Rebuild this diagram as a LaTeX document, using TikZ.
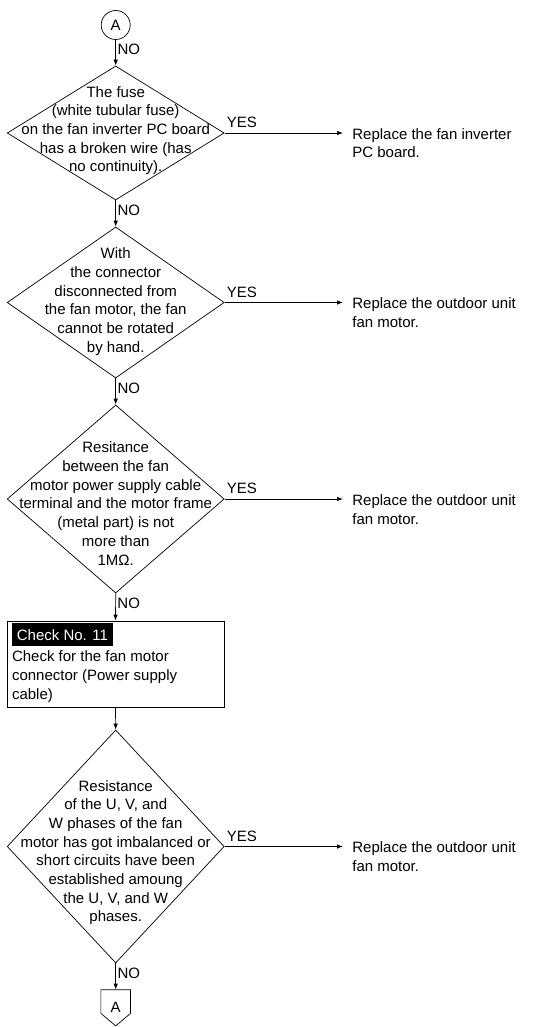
\documentclass[tikz,border=0pt]{standalone}
\usepackage{fontspec}
\setmainfont{Liberation Sans}
\usetikzlibrary{shapes.geometric}
\usetikzlibrary{arrows.meta}

\begin{document}
\begin{tikzpicture}[x=1pt, y=-1pt, line width=0.7pt,
  >={Latex[length=6pt,width=4.5pt]},
  every node/.style={font=\fontsize{15}{18.7}\selectfont},
  dec/.style={draw, diamond, minimum width=217pt, inner sep=0},
  txt/.style={align=center, inner sep=0},
  repl/.style={align=left, inner sep=0, anchor=north west},
  yes/.style={pos=0, anchor=south west, inner xsep=2pt, inner ysep=4.7pt},
  no/.style={pos=0.37, anchor=west, inner sep=1.5pt}]
\useasboundingbox (0,0) rectangle (545,1027);

\node[draw, circle, minimum size=29pt, inner sep=0] (startA) at (115.7,25) {A};

% first check
\node[dec, minimum height=134pt] (d1) at (115.7,133) {};
\node[txt] (t1) at (115.7,130.6) {The fuse\\(white tubular fuse)\\on the fan inverter PC board\\has a broken wire (has\\no continuity).};
\node[repl] (r1) at (352,128) {Replace the fan inverter\\PC board.};

% second check
\node[dec, minimum height=151pt] (d2) at (115.7,302.5) {};
\node[txt] (t2) at (115.7,301.6) {With\\the connector\\disconnected from\\the fan motor, the fan\\cannot be rotated\\by hand.};
\node[repl] (r2) at (352,297.5) {Replace the outdoor unit\\fan motor.};

% third check
\node[dec, minimum height=188pt] (d3) at (115.7,499) {};
\node[txt] (t3) at (115.7,503.5) {Resitance\\between the fan\\motor power supply cable\\terminal and the motor frame\\(metal part) is not\\more than\\1MΩ.};
\node[repl] (r3) at (352,494.3) {Replace the outdoor unit\\fan motor.};

% Check No. 11
\node[draw, minimum width=217pt, minimum height=86pt, inner sep=0] (box11) at (115.5,664) {};
\node[fill=black, text=white, anchor=north west, minimum height=23pt, inner xsep=4.5pt, inner ysep=0] (tag11) at (12,623) {Check No. 11};
\node[repl] (body11) at (11.7,650.5) {Check for the fan motor\\connector (Power supply\\cable)};

% fourth check
\node[dec, minimum height=233pt] (d4) at (115.7,846.5) {};
\node[txt] (t4) at (115.7,852.6) {Resistance\\of the U, V, and\\W phases of the fan\\motor has got imbalanced or\\short circuits have been\\established amoung\\the U, V, and W\\phases.};
\node[repl] (r4) at (352,841.7) {Replace the outdoor unit\\fan motor.};

% off-page connector
\node[minimum width=29pt, minimum height=23pt, inner sep=0, text height=21pt, text depth=0pt] (endA) at (115.7,1001.5) {A};
\draw (endA.north west) -- (endA.north east) -- (endA.south east) -- ([yshift=-12.5pt]endA.south) -- (endA.south west) -- cycle;

% NO branches
\draw[->] (startA.south) -- node[no] (no1) {NO} (d1.north);
\draw[->] (d1.south) -- node[no] (no2) {NO} (d2.north);
\draw[->] (d2.south) -- node[no] (no3) {NO} (d3.north);
\draw[->] (d3.south) -- node[no] (no4) {NO} (box11.north);
\draw[->] (box11.south) -- (d4.north);
\draw[->] (d4.south) -- node[no] (no5) {NO} (endA.north);

% YES branches
\draw[->, shorten >=9pt] (d1.east) -- node[yes] (y1) {YES} (d1.east -| r1.west);
\draw[->, shorten >=9pt] (d2.east) -- node[yes] (y2) {YES} (d2.east -| r2.west);
\draw[->, shorten >=9pt] (d3.east) -- node[yes] (y3) {YES} (d3.east -| r3.west);
\draw[->, shorten >=9pt] (d4.east) -- node[yes] (y4) {YES} (d4.east -| r4.west);
\end{tikzpicture}
\end{document}
